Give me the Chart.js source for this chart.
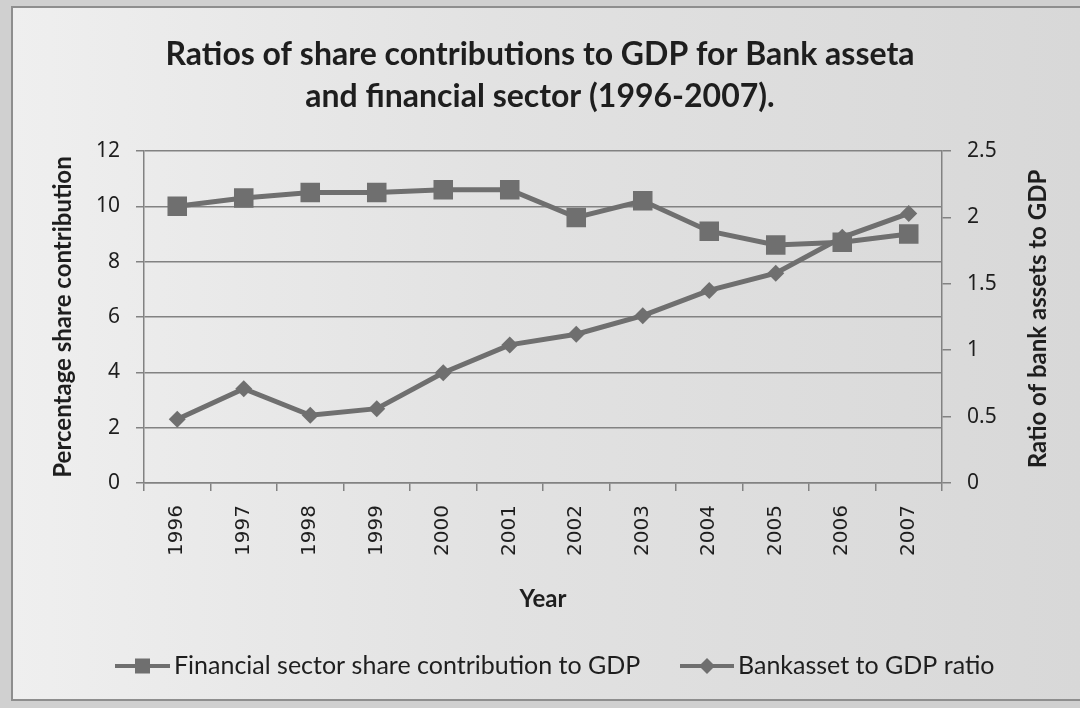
<!DOCTYPE html>
<html>
<head>
<meta charset="utf-8">
<script src="https://cdn.jsdelivr.net/npm/chart.js@4.4.1/dist/chart.umd.min.js"></script>
<style>
  html, body { margin: 0; padding: 0; background: #d2d2d2; }
  #wrap { width: 1080px; height: 708px; }
</style>
</head>
<body>
<div id="wrap"><canvas id="chart"></canvas></div>
<script>
// Years on the category axis
const years = ["1996", "1997", "1998", "1999", "2000", "2001", "2002", "2003", "2004", "2005", "2006", "2007"];

// Financial sector share of GDP (%), left axis
const financialShare = [10.0, 10.3, 10.5, 10.5, 10.6, 10.6, 9.6, 10.2, 9.1, 8.6, 8.7, 9.0];

// Bank assets / GDP, right axis
const bankAssetRatio = [0.48, 0.71, 0.51, 0.56, 0.83, 1.04, 1.12, 1.26, 1.45, 1.58, 1.85, 2.03];

// Axis tick labels
const leftTicks = ["0", "2", "4", "6", "8", "10", "12"];
const rightTicks = ["0", "0.5", "1", "1.5", "2", "2.5"];

const seriesNames = ["Financial sector share contribution to GDP", "Bankasset to GDP ratio"];
const rightTitle = "Ratio of bank assets to GDP";

const lineGray = "#6f6f6f";
const axisGray = "#828282";
const textColor = "#1e1e1e";

Chart.defaults.font.family = "Lato";
Chart.defaults.color = textColor;

// scanned-page backdrop with the chart frame
const pageBackdrop = {
  id: "pageBackdrop",
  beforeDraw(chart) {
    const { ctx, width, height } = chart;
    ctx.save();
    ctx.fillStyle = "#d0d0d0";
    ctx.fillRect(0, 0, width, height);
    const g = ctx.createLinearGradient(12, 0, width, 0);
    g.addColorStop(0, "#efefef");
    g.addColorStop(0.45, "#e2e2e2");
    g.addColorStop(1, "#d8d8d8");
    ctx.fillStyle = g;
    ctx.fillRect(12, 7, width, 693);
    ctx.strokeStyle = "#8e8e8e";
    ctx.lineWidth = 2;
    ctx.strokeRect(12, 7, width + 10, 693);
    ctx.restore();
  }
};

function drawMarker(ctx, style, x, y, r) {
  ctx.beginPath();
  if (style === "rect") {
    ctx.rect(x - r, y - r, 2 * r, 2 * r);
  } else {
    ctx.moveTo(x - r, y);
    ctx.lineTo(x, y - r);
    ctx.lineTo(x + r, y);
    ctx.lineTo(x, y + r);
    ctx.closePath();
  }
  ctx.fill();
}

// legend with line + marker samples, and the right axis title reading upwards
const lineLegend = {
  id: "lineLegend",
  afterDraw(chart) {
    const { ctx } = chart;
    const slots = [{ x: 115, w: 55 }, { x: 680, w: 54 }];
    const y = 666;
    ctx.save();
    ctx.font = "25px Lato";
    ctx.textBaseline = "middle";
    ctx.textAlign = "left";
    chart.data.datasets.forEach((ds, i) => {
      const s = slots[i];
      ctx.strokeStyle = ds.borderColor;
      ctx.fillStyle = ds.borderColor;
      ctx.lineWidth = 4;
      ctx.beginPath();
      ctx.moveTo(s.x, y);
      ctx.lineTo(s.x + s.w, y);
      ctx.stroke();
      drawMarker(ctx, ds.pointStyle, s.x + s.w / 2, y, ds.pointStyle === "rect" ? 7.5 : 8);
      ctx.fillStyle = textColor;
      ctx.fillText(ds.label, s.x + s.w + 4, y);
    });

    const area = chart.chartArea;
    ctx.translate(1038, (area.top + area.bottom) / 2 + 2);
    ctx.rotate(-Math.PI / 2);
    ctx.font = "bold 24px Lato";
    ctx.textAlign = "center";
    ctx.fillText(rightTitle, 0, 0);
    ctx.restore();
  }
};

new Chart(document.getElementById("chart"), {
  type: "line",
  plugins: [pageBackdrop, lineLegend],
  data: {
    labels: years,
    datasets: [
      {
        label: seriesNames[0],
        data: financialShare,
        yAxisID: "y",
        borderColor: lineGray,
        backgroundColor: lineGray,
        borderWidth: 5,
        pointStyle: "rect",
        pointRadius: 13.8,
        pointBorderWidth: 0,
        tension: 0
      },
      {
        label: seriesNames[1],
        data: bankAssetRatio,
        yAxisID: "y1",
        borderColor: lineGray,
        backgroundColor: lineGray,
        borderWidth: 5,
        pointStyle: "rectRot",
        pointRadius: 8.5,
        pointBorderWidth: 0,
        tension: 0
      }
    ]
  },
  options: {
    responsive: true,
    maintainAspectRatio: false,
    animation: false,
    layout: { padding: { left: 0, right: 0, top: 0, bottom: 70 } },
    plugins: {
      legend: { display: false },
      tooltip: { enabled: false },
      title: {
        display: true,
        text: ["Ratios of share contributions to GDP for Bank asseta", "and financial sector (1996-2007)."],
        color: textColor,
        font: { size: 32, weight: "bold", lineHeight: 1.3125 },
        padding: { top: 34, bottom: 33 }
      }
    },
    scales: {
      x: {
        offset: true,
        grid: { offset: true, drawOnChartArea: false, drawTicks: true, tickLength: 8, color: axisGray, lineWidth: 1.5 },
        border: { display: true, color: axisGray, width: 1.5 },
        ticks: { minRotation: 90, maxRotation: 90, autoSkip: false, padding: 14, color: textColor, font: { family: "DejaVu Sans", size: 20 } },
        title: { display: true, text: "Year", color: textColor, font: { size: 24, weight: "bold", lineHeight: 1.2 }, padding: { top: 0, bottom: 24 } },
        afterFit(scale) { scale.height = 155; }
      },
      y: {
        position: "left",
        min: 0,
        max: 12,
        ticks: {
          stepSize: 2,
          padding: 16,
          color: textColor,
          font: { family: "Noto Sans", size: 21 },
          callback: (v, i) => leftTicks[i]
        },
        grid: { color: axisGray, lineWidth: 1.5, tickLength: 8 },
        border: { display: true, color: axisGray, width: 1.5 },
        title: { display: true, text: "Percentage share contribution", color: textColor, font: { size: 24, weight: "bold", lineHeight: 1.2 }, padding: { top: 49, bottom: 0 } },
        afterFit(scale) { scale.width = 144; }
      },
      y1: {
        position: "right",
        min: 0,
        max: 2.5,
        ticks: {
          stepSize: 0.5,
          padding: 16,
          color: textColor,
          font: { family: "Noto Sans", size: 21 },
          callback: (v, i) => rightTicks[i]
        },
        grid: { drawOnChartArea: false, color: axisGray, lineWidth: 1.5, tickLength: 9 },
        border: { display: true, color: axisGray, width: 1.5 },
        afterFit(scale) { scale.width = 138; }
      }
    }
  }
});
</script>
</body>
</html>
